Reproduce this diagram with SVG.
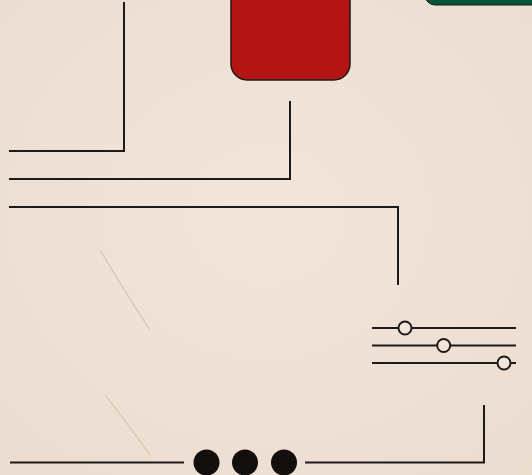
<svg xmlns="http://www.w3.org/2000/svg" width="532" height="475" viewBox="0 0 532 475">
<defs>
<style>
.ln{fill:none;stroke:#1e1a18;stroke-width:2}
.knob{fill:#f3e6dc;stroke:#1e1a18;stroke-width:2}
.dot{fill:#120f0e}
</style>
<radialGradient id="bg" cx="0.5" cy="0.45" r="0.75">
<stop offset="0" stop-color="#f3e5da"/>
<stop offset="1" stop-color="#ecdcd0"/>
</radialGradient>
</defs>
<rect width="532" height="475" fill="url(#bg)"/>
<path d="M100 250 Q130 300 150 330 M105 395 Q125 420 150 455" fill="none" stroke="#c9ad98" stroke-width="1.2" opacity="0.6"/>
<g id="node-red"><rect x="231" y="-20" width="119" height="100" rx="16" fill="#b31515" stroke="#1e1a18" stroke-width="1.5"/></g>
<g id="node-green"><rect x="425" y="-30" width="120" height="35" rx="10" fill="#00533d" stroke="#1e1a18" stroke-width="1"/></g>
<g id="node-sliders">
<line class="ln" x1="372" y1="328" x2="516" y2="328"/>
<line class="ln" x1="372" y1="345.5" x2="516" y2="345.5"/>
<line class="ln" x1="372" y1="363" x2="516" y2="363"/>
<circle class="knob" cx="405" cy="328" r="6.5"/>
<circle class="knob" cx="443.7" cy="345.5" r="6.5"/>
<circle class="knob" cx="504" cy="363" r="6.5"/>
</g>
<g id="node-dots">
<circle class="dot" cx="206.5" cy="462.5" r="13"/>
<circle class="dot" cx="245" cy="462.5" r="13"/>
<circle class="dot" cx="284" cy="462.5" r="13"/>
</g>
<g id="connectors">
<polyline class="ln" points="124,2 124,151 9,151"/>
<polyline class="ln" points="290,101 290,179 9,179"/>
<polyline class="ln" points="9,207 398,207 398,285"/>
<line class="ln" x1="10" y1="462.5" x2="184" y2="462.5"/>
<polyline class="ln" points="305,462.5 484,462.5 484,405"/>
</g>
</svg>
